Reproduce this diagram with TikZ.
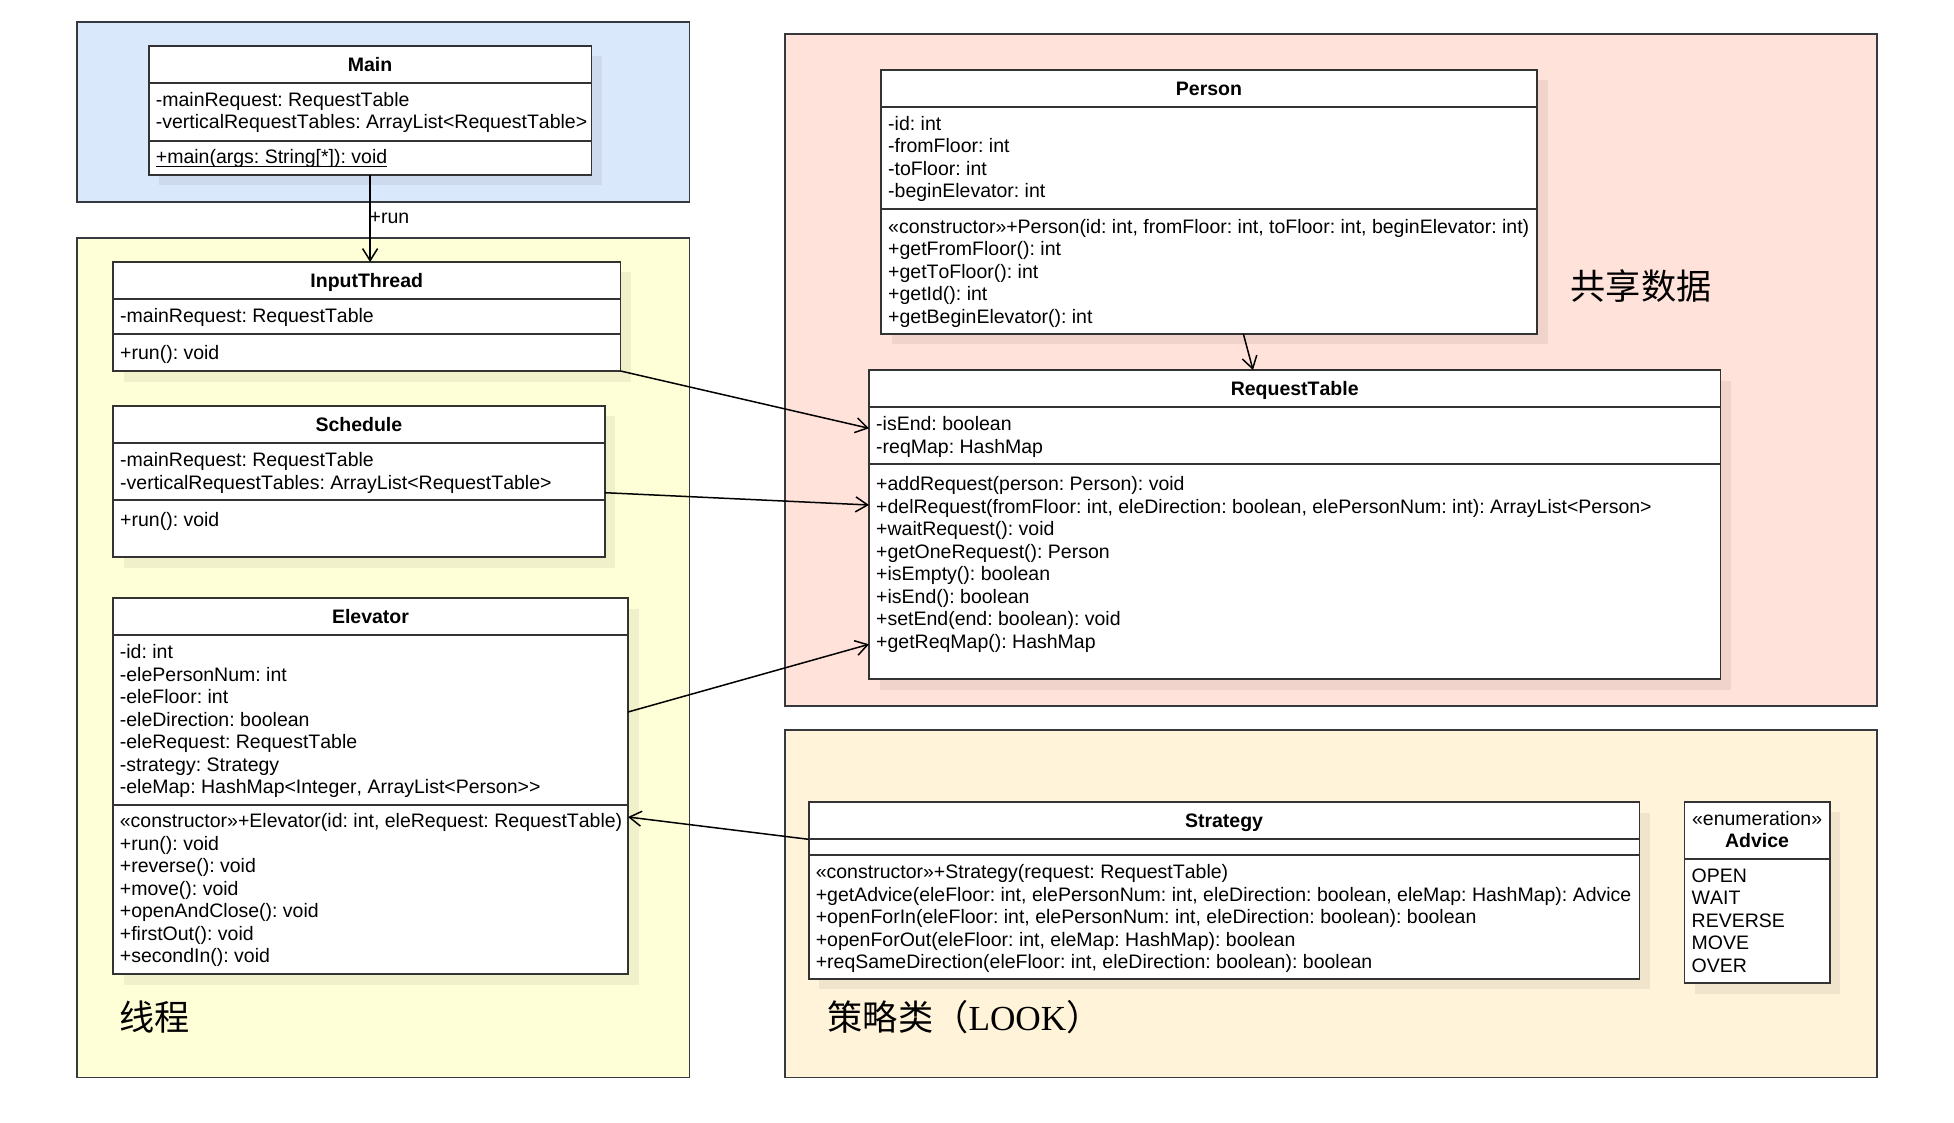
\documentclass[tikz,border=0pt]{standalone}
\usepackage{fontspec}
\setmainfont{Liberation Sans}[Kerning=Off]
\newfontfamily\cjkfont{Noto Sans CJK SC}
\newfontfamily\serifL{Liberation Serif}
\usetikzlibrary{arrows.meta,calc}
\definecolor{bluefill}{HTML}{DAE8FC}
\definecolor{yelfill}{HTML}{FFFFD7}
\definecolor{pinkfill}{HTML}{FFE2D9}
\definecolor{creamfill}{HTML}{FFF4D9}
\definecolor{panelline}{HTML}{36393D}
\definecolor{boxline}{HTML}{333333}
\frenchspacing
\newcommand\fsz{\fontsize{19.5pt}{22.5pt}\selectfont\frenchspacing}
\newcommand\rs{\rule{0pt}{15pt}}
\newcommand\umlcls[5]{%
  \fill[black,opacity=0.06] ({#2+10.5},{#3+10.5}) rectangle ({#4+10.5},{#5+10.5});
  \node[cls, minimum width={#4-#2}, minimum height={#5-#3}] (#1) at (#2,#3) {};}
\newcommand\umlsep[3]{\draw[sepline] (#1,#3) -- (#2,#3);}
\begin{document}
\begin{tikzpicture}[x=1pt,y=-1pt,
  cls/.style={draw=boxline,line width=1.8pt,fill=white,rectangle,inner sep=0pt,outer sep=0pt,anchor=north west},
  sepline/.style={draw=boxline,line width=1.8pt},
  panel/.style={draw=panelline,line width=1.8pt},
  ttl/.style={font=\fsz\bfseries,text height=14pt,text depth=0pt,inner sep=0pt},
  txt/.style={font=\fsz,align=left,inner sep=0pt,anchor=north west},
  lbl/.style={font=\fsz,text height=14pt,text depth=0pt,inner sep=0pt},
  conn/.style={draw=black,line width=1.5pt,-{Straight Barb[length=12pt,width=15pt,line width=1.5pt]}},
  cjk/.style={font=\cjkfont\fontsize{35.2pt}{40pt}\selectfont,inner sep=0pt,anchor=base west}]
\useasboundingbox (0,0) rectangle (1954,1123);
\fill[white] (0,0) rectangle (1954,1123);
% panels
\draw[panel,fill=bluefill] (77,22) rectangle (689.5,201.7);
\draw[panel,fill=yelfill] (77,237.7) rectangle (689.5,1077.5);
\draw[panel,fill=pinkfill] (784.7,33.7) rectangle (1877,705.7);
\draw[panel,fill=creamfill] (784.7,730) rectangle (1877,1077.5);
% class boxes
\umlcls{main}{148.7}{45.7}{591.5}{175}
\umlsep{148.7}{591.5}{83.3}\umlsep{148.7}{591.5}{140.7}
\umlcls{inp}{113}{262}{620.5}{371}
\umlsep{113}{620.5}{299.3}\umlsep{113}{620.5}{334}
\umlcls{sch}{113}{405.7}{604.8}{557}
\umlsep{113}{604.8}{443}\umlsep{113}{604.8}{500.3}
\umlcls{elv}{113}{598.2}{628}{974}
\umlsep{113}{628}{634.7}\umlsep{113}{628}{805}
\umlcls{per}{881}{69.7}{1537}{333.7}
\umlsep{881}{1537}{107.3}\umlsep{881}{1537}{209.3}
\umlcls{rt}{869}{370}{1720.4}{679}
\umlsep{869}{1720.4}{407.3}\umlsep{869}{1720.4}{464.3}
\umlcls{str}{808.6}{802}{1639.5}{978.7}
\umlsep{808.6}{1639.5}{839.3}\umlsep{808.6}{1639.5}{855}
\umlcls{adv}{1684.5}{801.7}{1829.7}{983.3}
\umlsep{1684.5}{1829.7}{858.7}
% titles
\node[ttl] (main-t) at (370.1,64.5) {Main};
\node[ttl] (inp-t) at (366.75,280.7) {InputThread};
\node[ttl] (sch-t) at (358.9,424.3) {Schedule};
\node[ttl] (elv-t) at (370.5,616.5) {Elevator};
\node[ttl] (per-t) at (1209,88.5) {Person};
\node[ttl] (rt-t) at (1294.7,388.7) {RequestTable};
\node[ttl] (str-t) at (1224,820.6) {Strategy};
\node[lbl] (adv-s) at (1757.1,818.7) {«enumeration»};
\node[ttl] (adv-t) at (1757.1,840) {Advice};
% members
\node[txt] (main-a) at (155.7,91.3) {\rs-mainRequest: RequestTable\\-verticalRequestTables: ArrayList<RequestTable>};
\node[font=\fsz,inner sep=0pt,anchor=base west] (main-m) at (155.7,163.7) {+main(args: String[*]): void};
\draw[line width=1.1pt] ($(main-m.base west)+(0,3)$) -- ($(main-m.base east)+(0,3)$);
\node[txt] (inp-a) at (120,307) {\rs-mainRequest: RequestTable};
\node[txt] (inp-m) at (120,344.7) {\rs+run(): void};
\node[txt] (sch-a) at (120,451.3) {\rs-mainRequest: RequestTable\\-verticalRequestTables: ArrayList<RequestTable>};
\node[txt] (sch-m) at (120,511.3) {\rs+run(): void};
\node[txt] (elv-a) at (119.7,643.3) {\rs-id: int\\-elePersonNum: int\\-eleFloor: int\\-eleDirection: boolean\\-eleRequest: RequestTable\\-strategy: Strategy\\-eleMap: HashMap<Integer, ArrayList<Person>\kern0pt>};
\node[txt] (elv-m) at (119.7,812.5) {\rs«constructor»+Elevator(id: int, eleRequest: RequestTable)\\+run(): void\\+reverse(): void\\+move(): void\\+openAndClose(): void\\+firstOut(): void\\+secondIn(): void};
\node[txt] (per-a) at (888,115.3) {\rs-id: int\\-fromFloor: int\\-toFloor: int\\-beginElevator: int};
\node[txt] (per-m) at (888,218) {\rs«constructor»+Person(id: int, fromFloor: int, toFloor: int, beginElevator: int)\\+getFromFloor(): int\\+getToFloor(): int\\+getId(): int\\+getBeginElevator(): int};
\node[txt] (rt-a) at (876,415.3) {\rs-isEnd: boolean\\-reqMap: HashMap};
\node[txt] (rt-m) at (876,475.3) {\rs+addRequest(person: Person): void\\+delRequest(fromFloor: int, eleDirection: boolean, elePersonNum: int): ArrayList<Person>\\+waitRequest(): void\\+getOneRequest(): Person\\+isEmpty(): boolean\\+isEnd(): boolean\\+setEnd(end: boolean): void\\+getReqMap(): HashMap};
\node[txt] (str-m) at (815.6,863.7) {\rs«constructor»+Strategy(request: RequestTable)\\+getAdvice(eleFloor: int, elePersonNum: int, eleDirection: boolean, eleMap: HashMap): Advice\\+openForIn(eleFloor: int, elePersonNum: int, eleDirection: boolean): boolean\\+openForOut(eleFloor: int, eleMap: HashMap): boolean\\+reqSameDirection(eleFloor: int, eleDirection: boolean): boolean};
\node[txt] (adv-m) at (1691.5,867) {\rs OPEN\\WAIT\\REVERSE\\MOVE\\OVER};
% panel captions
\node[cjk] (cap-thr) at (119,1030) {线程};
\node[cjk] (cap-shr) at (1570.5,299) {共享数据};
\node[cjk] (cap-str) at (827.5,1030.5) {策略类（{\serifL LOOK}）};
% connectors
\draw[conn] (main.south) -- (main.south |- inp.north);
\node[lbl,anchor=west] (runlbl) at (369.5,216.7) {+run};
\draw[conn] (inp.south east) -- ($(rt.north west)+(0,58.3)$);
\draw[conn] ($(sch.north east)+(0,87)$) -- ($(rt.north west)+(0,135)$);
\draw[conn] ($(elv.north east)+(0,113.8)$) -- ($(rt.north west)+(0,274.3)$);
\draw[conn] ($(str.north west)+(0,37.3)$) -- ($(elv.north east)+(0,218.8)$);
\draw[conn] ($(per.south west)+(362.3,0)$) -- ($(rt.north west)+(384,0)$);
\end{tikzpicture}
\end{document}
